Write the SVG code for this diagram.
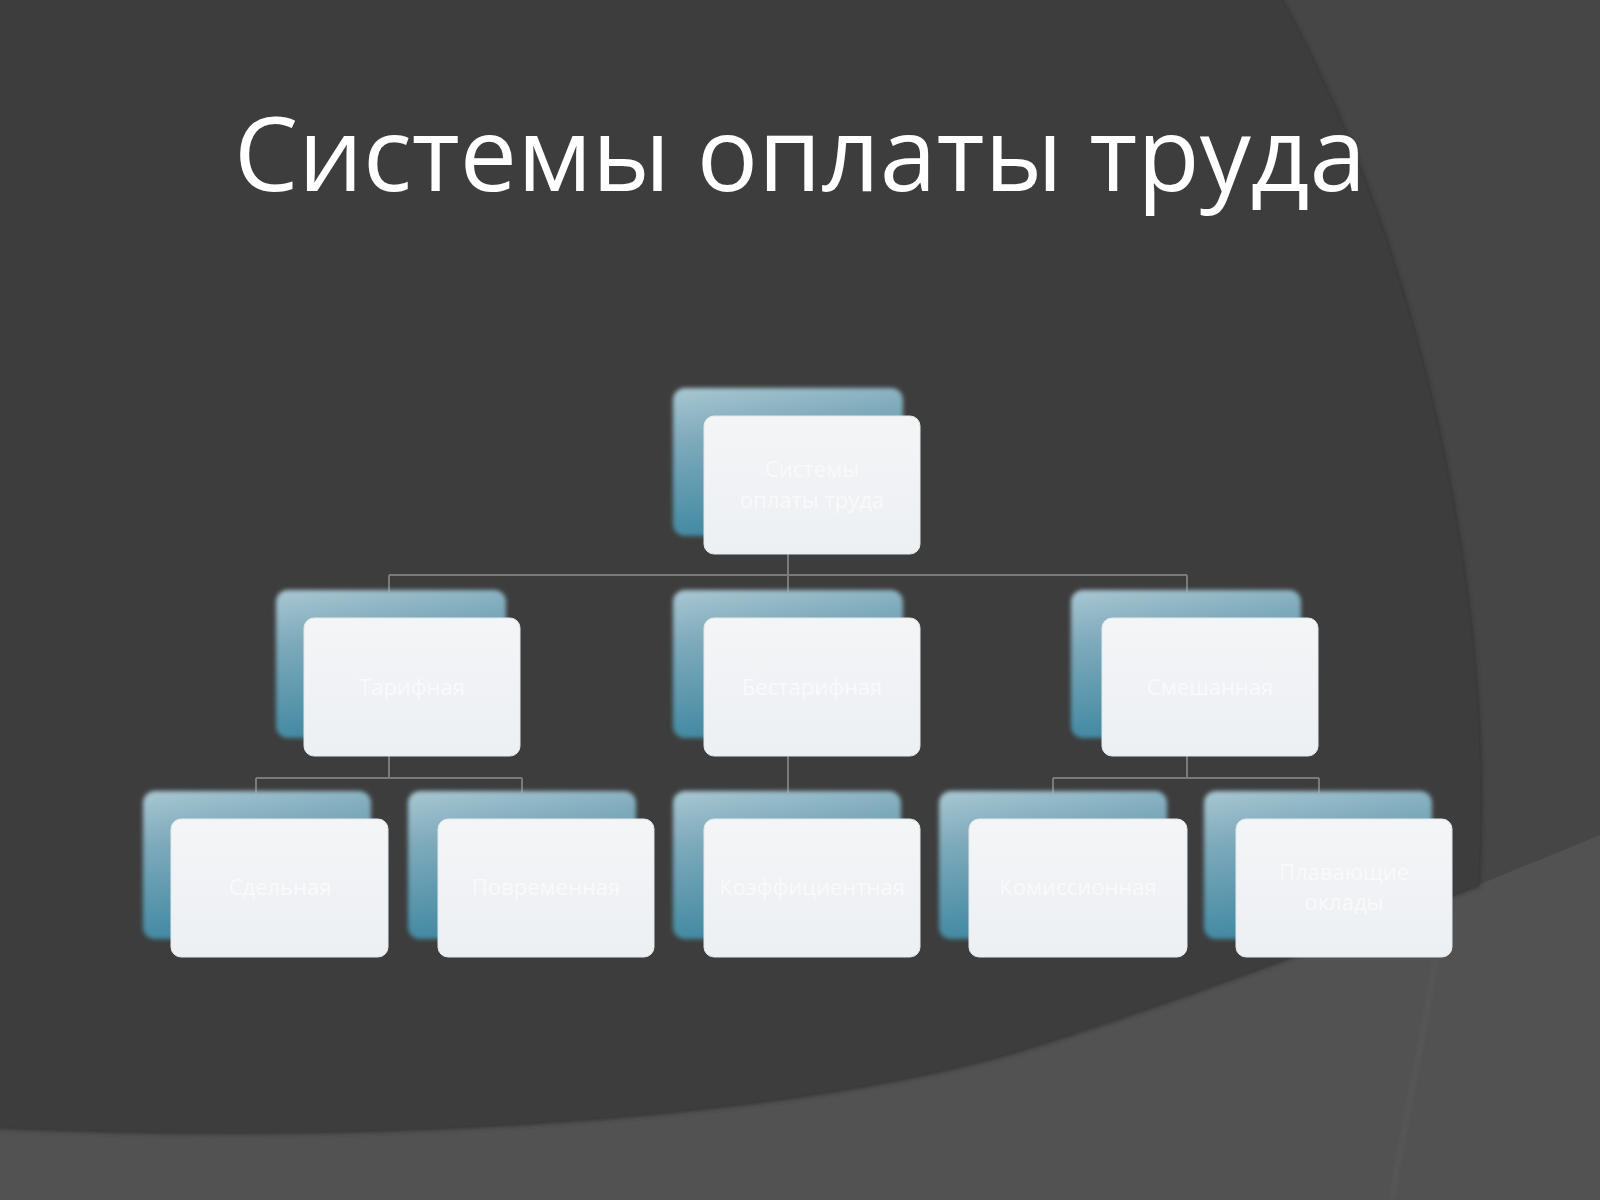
<svg xmlns="http://www.w3.org/2000/svg" width="1600" height="1200" viewBox="0 0 1600 1200">
  <defs>
    <linearGradient id="backGrad" x1="0" y1="0" x2="0.25" y2="1">
      <stop offset="0" stop-color="#a9c7d2"/>
      <stop offset="0.35" stop-color="#7eaabb"/>
      <stop offset="1" stop-color="#3f88a1"/>
    </linearGradient>
    <linearGradient id="frontGrad" x1="0" y1="0" x2="0" y2="1">
      <stop offset="0" stop-color="#f3f5f7"/>
      <stop offset="1" stop-color="#edf0f3"/>
    </linearGradient>
    <filter id="soft" x="-10%" y="-10%" width="120%" height="120%">
      <feGaussianBlur stdDeviation="2.2"/>
    </filter>
    <filter id="edgeBlur" x="-5%" y="-5%" width="110%" height="110%">
      <feGaussianBlur stdDeviation="2"/>
    </filter>
    <style>
      .back { fill: url(#backGrad); filter: url(#soft); }
      .front { fill: url(#frontGrad); stroke: #e2e8ec; stroke-width: 1; }
      .lbl { font-family: "Open Sans", "Noto Sans", "DejaVu Sans", sans-serif; font-size: 22px; fill: #f9fafb; text-anchor: middle; }
      .conn { stroke: #7a7a7a; stroke-width: 2; fill: none; }
      .title { font-family: "Open Sans", "Noto Sans", "DejaVu Sans", sans-serif; font-size: 102px; fill: #ffffff; text-anchor: middle; }
    </style>
  </defs>

  <!-- background -->
  <g id="background">
    <rect x="0" y="0" width="1600" height="1200" fill="#464646"/>
    <path d="M0,1127 C400,1145 800,1115 1020,1050 C1150,1010 1300,955 1478,885 L1600,835 L1600,1200 L0,1200 Z" fill="#525252"/>
    <path d="M1435,960 C1422,1050 1402,1130 1392,1200" stroke="#5a5a5a" stroke-width="3" fill="none" filter="url(#edgeBlur)"/>
    <path d="M0,0 L1281,0 C1420,250 1495,600 1478,885 C1300,955 1150,1010 1020,1050 C800,1115 400,1145 0,1127 Z" fill="#3c3c3c" stroke="#343434" stroke-width="4" filter="url(#edgeBlur)"/>
    <path d="M0,0 L1281,0 C1420,250 1495,600 1478,885 C1300,955 1150,1010 1020,1050 C800,1115 400,1145 0,1127 Z" fill="#3d3d3d"/>
  </g>

  <text class="title" x="800" y="191">Системы оплаты труда</text>

  <!-- connectors -->
  <g id="connectors">
    <path class="conn" d="M788,554 V575 M389,575 H1187 M389,575 V592 M788,575 V592 M1187,575 V592"/>
    <path class="conn" d="M389,756 V778 M256,778 H522 M256,778 V793 M522,778 V793"/>
    <path class="conn" d="M788,756 V793"/>
    <path class="conn" d="M1187,756 V778 M1053,778 H1319 M1053,778 V793 M1319,778 V793"/>
  </g>

  <!-- nodes -->
  <g id="node-root">
    <rect class="back" x="673" y="388" width="230" height="148" rx="12"/>
    <rect class="front" x="704" y="416" width="216" height="138" rx="10"/>
    <text class="lbl" x="812" y="477">Системы</text>
    <text class="lbl" x="812" y="508">оплаты труда</text>
  </g>
  <g id="node-l2-1">
    <rect class="back" x="276" y="590" width="230" height="148" rx="12"/>
    <rect class="front" x="304" y="618" width="216" height="138" rx="10"/>
    <text class="lbl" x="412" y="695">Тарифная</text>
  </g>
  <g id="node-l2-2">
    <rect class="back" x="673" y="590" width="230" height="148" rx="12"/>
    <rect class="front" x="704" y="618" width="216" height="138" rx="10"/>
    <text class="lbl" x="812" y="695">Бестарифная</text>
  </g>
  <g id="node-l2-3">
    <rect class="back" x="1071" y="590" width="230" height="148" rx="12"/>
    <rect class="front" x="1102" y="618" width="216" height="138" rx="10"/>
    <text class="lbl" x="1210" y="695">Смешанная</text>
  </g>
  <g id="node-l3-1">
    <rect class="back" x="143" y="791" width="228" height="148" rx="12"/>
    <rect class="front" x="171" y="819" width="217" height="138" rx="10"/>
    <text class="lbl" x="280" y="895">Сдельная</text>
  </g>
  <g id="node-l3-2">
    <rect class="back" x="408" y="791" width="228" height="148" rx="12"/>
    <rect class="front" x="438" y="819" width="216" height="138" rx="10"/>
    <text class="lbl" x="546" y="895">Повременная</text>
  </g>
  <g id="node-l3-3">
    <rect class="back" x="673" y="791" width="228" height="148" rx="12"/>
    <rect class="front" x="704" y="819" width="216" height="138" rx="10"/>
    <text class="lbl" x="812" y="895">Коэффициентная</text>
  </g>
  <g id="node-l3-4">
    <rect class="back" x="939" y="791" width="228" height="148" rx="12"/>
    <rect class="front" x="969" y="819" width="218" height="138" rx="10"/>
    <text class="lbl" x="1078" y="895">Комиссионная</text>
  </g>
  <g id="node-l3-5">
    <rect class="back" x="1204" y="791" width="228" height="148" rx="12"/>
    <rect class="front" x="1236" y="819" width="216" height="138" rx="10"/>
    <text class="lbl" x="1344" y="880">Плавающие</text>
    <text class="lbl" x="1344" y="910">оклады</text>
  </g>
</svg>
